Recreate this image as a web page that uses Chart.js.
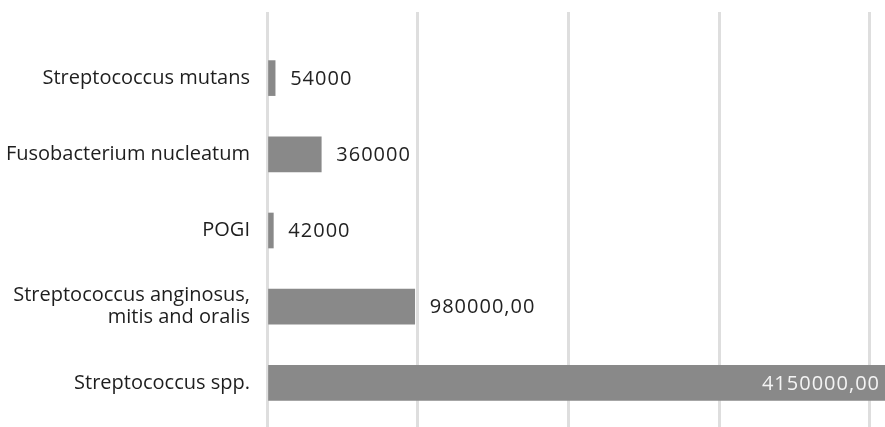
<!DOCTYPE html>
<html>
<head>
<meta charset="utf-8">
<script src="https://cdn.jsdelivr.net/npm/chart.js@4/dist/chart.umd.min.js"></script>
<style>
  html, body { margin: 0; padding: 0; background: #fff; }
  #wrap { width: 885px; height: 427px; position: relative; }
</style>
</head>
<body>
<div id="wrap"><canvas id="bacteriaChart"></canvas></div>
<script>
// Categorias (de cima para baixo)
const categorias = [
    'Streptococcus mutans',
    'Fusobacterium nucleatum',
    'POGI',
    ['Streptococcus anginosus,', 'mitis and oralis'],
    'Streptococcus spp.'
];
const valores = [54000, 360000, 42000, 980000, 4150000];
const casasDecimais = [0, 0, 0, 2, 2];
const linhasGrade = [0, 1000000, 2000000, 3000000, 4000000];

const fonte = "'Open Sans', sans-serif";
const corBarra = '#898989';
const corGrade = '#dedede';

function formatarValor(v, casas) {
    return v.toFixed(casas).replace('.', ',');
}

// Escreve o valor ao lado de cada barra (ou dentro, se não couber)
const rotulosValores = {
    id: 'rotulosValores',
    afterDatasetsDraw(chart) {
        const ctx = chart.ctx;
        const area = chart.chartArea;
        const meta = chart.getDatasetMeta(0);
        ctx.save();
        ctx.font = '20px ' + fonte;
        ctx.letterSpacing = '1px';
        ctx.textBaseline = 'middle';
        meta.data.forEach(function(barra, i) {
            const texto = formatarValor(valores[i], casasDecimais[i]);
            const largura = ctx.measureText(texto).width;
            const fim = Math.min(barra.x, area.right);
            if (fim + 15 + largura > area.right) {
                ctx.fillStyle = '#f4f4f4';
                ctx.textAlign = 'right';
                ctx.fillText(texto, fim - 5, barra.y + 1);
            } else {
                ctx.fillStyle = '#222';
                ctx.textAlign = 'left';
                ctx.fillText(texto, fim + 15, barra.y + 1);
            }
        });
        ctx.restore();
    }
};

// Linhas de grade fixas a cada milhão
function definirTicks(eixo) {
    eixo.ticks = linhasGrade.map(v => ({ value: v }));
}

const eixoX = {
    min: 0,
    max: 4100000,
    ticks: { display: false },
    grid: { color: corGrade, lineWidth: 3, tickLength: 6 },
    border: { display: false },
    afterBuildTicks: definirTicks
};

const ctx = document.getElementById('bacteriaChart').getContext('2d');
const grafico = new Chart(ctx, {
    type: 'bar',
    data: {
        labels: categorias,
        datasets: [{
            data: valores,
            backgroundColor: corBarra,
            barThickness: 35
        }]
    },
    options: {
        indexAxis: 'y',
        responsive: true,
        maintainAspectRatio: false,
        animation: false,
        layout: { padding: { top: 12, right: 0, bottom: 0, left: 0 } },
        plugins: {
            legend: { display: false },
            tooltip: { enabled: false }
        },
        scales: {
            x: eixoX,
            // eixo de cima só prolonga as linhas de grade
            x2: Object.assign({}, eixoX, {
                position: 'top',
                grid: { color: corGrade, lineWidth: 3, tickLength: 28, drawOnChartArea: false }
            }),
            y: {
                grid: { display: false, drawTicks: false },
                border: { display: false },
                ticks: {
                    color: '#1e1e1e',
                    padding: 17,
                    font: { family: fonte, size: 20, lineHeight: 1.1 }
                },
                afterFit: function(eixo) {
                    eixo.width = 267;
                    eixo.paddingTop = 0;
                    eixo.paddingBottom = 0;
                }
            }
        }
    },
    plugins: [rotulosValores]
});
</script>
</body>
</html>
